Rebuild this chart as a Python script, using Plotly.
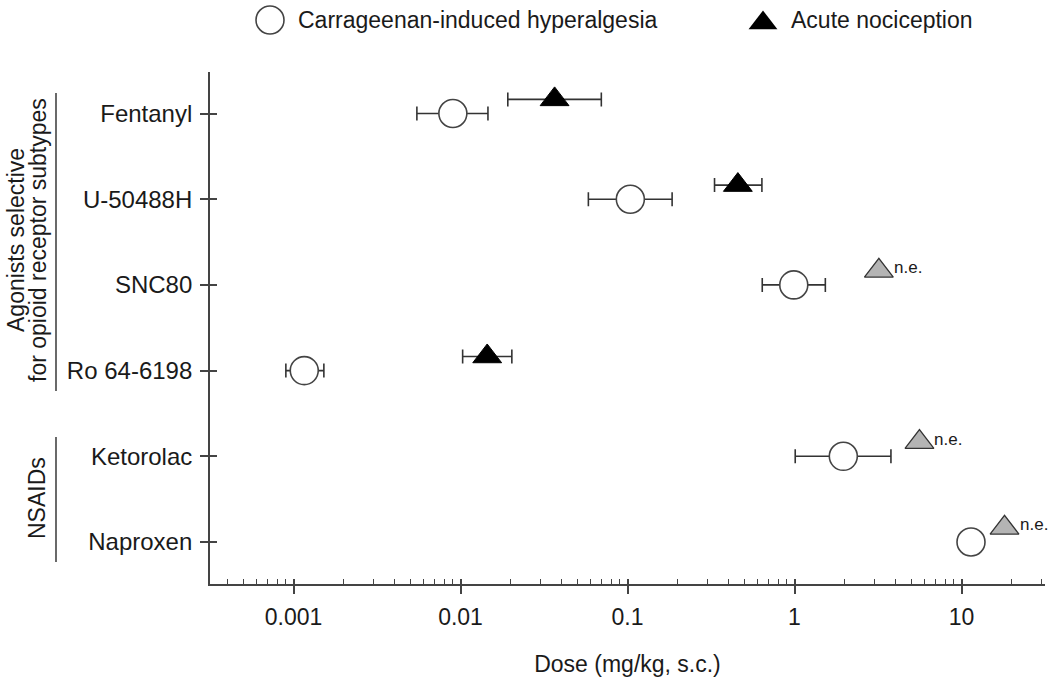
import math
import plotly.graph_objects as go

# ---------------- data ----------------
compounds = ["Fentanyl", "U-50488H", "SNC80", "Ro 64-6198", "Ketorolac", "Naproxen"]

# Carrageenan-induced hyperalgesia: ED50 and 95% CI (mg/kg)
hyper_dose = [0.0090, 0.104, 0.99, 0.00116, 1.96, 11.4]
hyper_lo = [0.00548, 0.0583, 0.641, 0.00090, 1.01, 11.4]
hyper_hi = [0.0146, 0.185, 1.53, 0.00152, 3.78, 11.4]

# Acute nociception: ED50 and 95% CI (None = not effective)
acute_dose = [0.0366, 0.458, None, 0.01445, None, None]
acute_lo = [0.0192, 0.332, None, 0.0103, None, None]
acute_hi = [0.0697, 0.638, None, 0.0203, None, None]

# Acute nociception: highest dose tested where not effective (n.e.)
ne_dose = [None, None, 3.2, None, 5.6, 18.1]

x_tick_vals = [0.001, 0.01, 0.1, 1, 10]
x_tick_text = ["0.001", "0.01", "0.1", "1", "10"]

legend_labels = ["Carrageenan-induced hyperalgesia", "Acute nociception"]
group_labels = [["Agonists selective", "for opioid receptor subtypes"], ["NSAIDs"]]

# ---------------- layout geometry ----------------
W, H = 1050, 684
L, R, T, B = 210, 5, 0, 100
plot_w = W - L - R
paper_h = H - T - B
plot_top_px = 71.7
ydom_top = (H - B - plot_top_px) / paper_h


def px_x(p):
    return (p - L) / plot_w


def px_y(p):
    return (H - B - p) / paper_h


FONT = "Liberation Sans, Arial, Helvetica, sans-serif"
TXT = "#1a1a1a"
AX = "#444444"
tri_off = 0.165
ypos = list(range(len(compounds)))
x_range = [-3.5, 1.5]
y_range = [5.49, -0.488]

minor_vals = []
for e in range(-4, 2):
    for m in range(2, 10):
        v = m * 10 ** e
        if 10 ** x_range[0] <= v <= 10 ** x_range[1]:
            minor_vals.append(v)

fig = go.Figure()

# hyperalgesia (open circles)
fig.add_trace(go.Scatter(
    x=hyper_dose, y=ypos, mode="markers",
    marker=dict(symbol="circle", size=28, color="white", line=dict(color=AX, width=1.6)),
    error_x=dict(type="data", symmetric=False,
                 array=[h - d for h, d in zip(hyper_hi, hyper_dose)],
                 arrayminus=[d - l for d, l in zip(hyper_dose, hyper_lo)],
                 color="#333333", thickness=1.6, width=7),
    showlegend=False, hoverinfo="skip"))

# acute nociception (filled triangles)
ai = [i for i, v in enumerate(acute_dose) if v is not None]
fig.add_trace(go.Scatter(
    x=[acute_dose[i] for i in ai], y=[ypos[i] - tri_off for i in ai], mode="markers",
    marker=dict(symbol="triangle-up", size=25, color="black", line=dict(color="black", width=1)),
    error_x=dict(type="data", symmetric=False,
                 array=[acute_hi[i] - acute_dose[i] for i in ai],
                 arrayminus=[acute_dose[i] - acute_lo[i] for i in ai],
                 color="#333333", thickness=1.6, width=7),
    showlegend=False, hoverinfo="skip"))

# not effective (grey triangles)
ni = [i for i, v in enumerate(ne_dose) if v is not None]
fig.add_trace(go.Scatter(
    x=[ne_dose[i] for i in ni], y=[ypos[i] - tri_off for i in ni], mode="markers",
    marker=dict(symbol="triangle-up", size=25, color="#b4b4b4", line=dict(color="#333333", width=1.3)),
    showlegend=False, hoverinfo="skip"))

for i in ni:
    fig.add_annotation(x=math.log10(ne_dose[i]), y=ypos[i] - tri_off, xref="x", yref="y",
                       text="n.e.", showarrow=False, xanchor="left", yanchor="middle",
                       xshift=13, yshift=3, font=dict(family=FONT, size=17, color=TXT))

# helper trace for the inner half of the crossing ticks
fig.add_trace(go.Scatter(x=[0.001], y=[0], xaxis="x3", yaxis="y3", mode="markers",
                         marker=dict(opacity=0), showlegend=False, hoverinfo="skip"))

# custom legend (pixel-like coordinate system in the top band)
fig.add_trace(go.Scatter(x=[270], y=[20], xaxis="x4", yaxis="y4", mode="markers",
                         marker=dict(symbol="circle", size=28, color="white", line=dict(color=AX, width=1.6)),
                         showlegend=False, hoverinfo="skip"))
fig.add_trace(go.Scatter(x=[763], y=[23], xaxis="x4", yaxis="y4", mode="markers",
                         marker=dict(symbol="triangle-up", size=25, color="black"),
                         showlegend=False, hoverinfo="skip"))
fig.add_annotation(x=296, y=20, xref="x4", yref="y4", text=legend_labels[0], showarrow=False,
                   xanchor="left", yanchor="middle", font=dict(family=FONT, size=23, color=TXT))
fig.add_annotation(x=789, y=20, xref="x4", yref="y4", text=legend_labels[1], showarrow=False,
                   xanchor="left", yanchor="middle", font=dict(family=FONT, size=23, color=TXT))

# group labels and brackets
fig.add_annotation(x=px_x(16), y=px_y(240), xref="paper", yref="paper", text=group_labels[0][0],
                   textangle=-90, showarrow=False, xanchor="center", yanchor="middle",
                   font=dict(family=FONT, size=23, color=TXT))
fig.add_annotation(x=px_x(38), y=px_y(240), xref="paper", yref="paper", text=group_labels[0][1],
                   textangle=-90, showarrow=False, xanchor="center", yanchor="middle",
                   font=dict(family=FONT, size=23, color=TXT))
fig.add_annotation(x=px_x(37), y=px_y(498), xref="paper", yref="paper", text=group_labels[1][0],
                   textangle=-90, showarrow=False, xanchor="center", yanchor="middle",
                   font=dict(family=FONT, size=23, color=TXT))
fig.add_shape(type="line", xref="paper", yref="paper", x0=px_x(56), x1=px_x(56),
              y0=px_y(93), y1=px_y(391), line=dict(color=AX, width=1.6))
fig.add_shape(type="line", xref="paper", yref="paper", x0=px_x(56), x1=px_x(56),
              y0=px_y(437), y1=px_y(562), line=dict(color=AX, width=1.6))

fig.update_layout(
    width=W, height=H, margin=dict(l=L, r=R, t=T, b=B, autoexpand=False),
    paper_bgcolor="white", plot_bgcolor="white", showlegend=False,
    font=dict(family=FONT, color=TXT),
    xaxis=dict(type="log", range=x_range, domain=[0, 1], anchor="y",
               showline=True, linecolor=AX, linewidth=1.8, mirror=False,
               ticks="outside", ticklen=8, tickwidth=1.5, tickcolor=AX,
               tickmode="array", tickvals=x_tick_vals, ticktext=x_tick_text,
               tickfont=dict(size=23, family=FONT, color=TXT), ticklabelstandoff=3,
               minor=dict(tickmode="array", tickvals=minor_vals, ticks="inside",
                          ticklen=5, tickwidth=1, tickcolor=AX, showgrid=False),
               showgrid=False, zeroline=False, automargin=False,
               title=dict(text="Dose (mg/kg, s.c.)", standoff=27,
                          font=dict(size=23, family=FONT, color=TXT))),
    yaxis=dict(range=y_range, domain=[0, ydom_top], anchor="x",
               showline=True, linecolor=AX, linewidth=1.8,
               ticks="outside", ticklen=8, tickwidth=1.5, tickcolor=AX,
               tickmode="array", tickvals=ypos, ticktext=compounds,
               tickfont=dict(size=24, family=FONT, color=TXT), ticklabelstandoff=3,
               showgrid=False, zeroline=False, automargin=False),
    xaxis3=dict(type="log", range=x_range, overlaying="x", anchor="y", side="bottom",
                ticks="inside", ticklen=5, tickwidth=1.5, tickcolor=AX,
                tickmode="array", tickvals=x_tick_vals, showticklabels=False,
                showline=False, showgrid=False, zeroline=False),
    yaxis3=dict(range=y_range, overlaying="y", anchor="x", side="left",
                ticks="inside", ticklen=7, tickwidth=1.5, tickcolor=AX,
                tickmode="array", tickvals=ypos, showticklabels=False,
                showline=False, showgrid=False, zeroline=False),
    xaxis4=dict(range=[L, W - R], domain=[0, 1], anchor="y4", visible=False, fixedrange=True),
    yaxis4=dict(range=[plot_top_px, 0], domain=[ydom_top, 1], anchor="x4", visible=False, fixedrange=True),
)

fig.write_html("out.html", config={"displayModeBar": False},
               post_script="document.body.style.margin='0';document.body.style.padding='0';")
